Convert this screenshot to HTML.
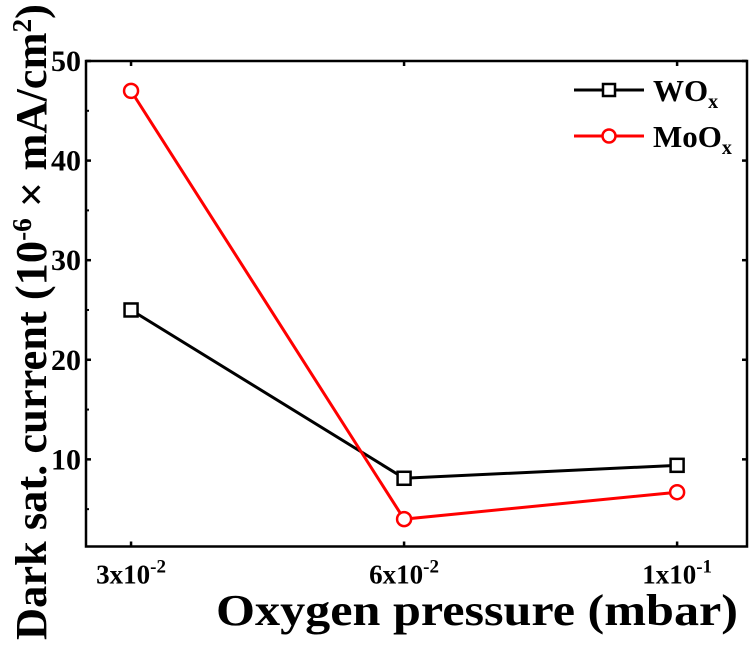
<!DOCTYPE html>
<html><head><meta charset="utf-8"><style>
body{margin:0;background:#fff;}
svg text{font-family:"Liberation Serif",serif;font-weight:bold;}
</style></head><body>
<svg id="chart" width="749" height="644" xmlns="http://www.w3.org/2000/svg"></svg>
<script>
const categories = ["3x10^-2","6x10^-2","1x10^-1"];
const woValues = [25, 8.1, 9.4];
const mooValues = [47, 4.0, 6.7];
const yTicks = [10,20,30,40,50];
const yMinorTicks = [5,15,25,35,45];

const NS="http://www.w3.org/2000/svg";
const svg=document.getElementById('chart');
const L=86,R=747,T=61,B=546.5;
const yMin=1.25,yMax=50;
const xLo=-0.165,xHi=2.256;
function xs(i){return L+(i-xLo)/(xHi-xLo)*(R-L);}
function ys(v){return B-(v-yMin)/(yMax-yMin)*(B-T);}
function mk(tag,attrs,parent){const e=document.createElementNS(NS,tag);for(const k in attrs)e.setAttribute(k,attrs[k]);(parent||svg).appendChild(e);return e;}

const frame=mk('rect',{x:L,y:T,width:R-L,height:B-T,fill:'none',stroke:'#000','stroke-width':2.5});



yTicks.forEach(v=>{
  const y=ys(v);
  const t=mk('line',{x1:L,x2:L+5,y1:y,y2:y,stroke:'#000','stroke-width':2.5});
  
  
  const t2=mk('line',{x1:R-5,x2:R,y1:y,y2:y,stroke:'#000','stroke-width':2.5});
  
  
  const lb=mk('text',{x:L-5,y:y+10,'text-anchor':'end','font-size':30});
  lb.textContent=v;
  
  
});
yMinorTicks.forEach(v=>{
  const y=ys(v);
  const t=mk('line',{x1:L,x2:L+3,y1:y,y2:y,stroke:'#000','stroke-width':2});
  
  
});
categories.forEach((c,i)=>{
  const x=xs(i);
  const t=mk('line',{x1:x,x2:x,y1:B,y2:B-5,stroke:'#000','stroke-width':2.5});
  
  
  const t2=mk('line',{x1:x,x2:x,y1:T,y2:T+5,stroke:'#000','stroke-width':2.5});
  
  
  const p=c.split('^');
  const lb=mk('text',{x:x,y:B+37,'text-anchor':'middle','font-size':27});
  
  
  const a=mk('tspan',{},lb);a.textContent=p[0];
  const b=mk('tspan',{dy:-11,'font-size':19},lb);b.textContent=p[1];
});

function series(vals,color,marker,name){
  const pts=vals.map((v,i)=>xs(i)+','+ys(v)).join(' ');
  const pl=mk('polyline',{points:pts,fill:'none',stroke:color,'stroke-width':3});
  
  
  vals.forEach((v,i)=>{
    let m;
    if(marker==='square') m=mk('rect',{x:xs(i)-6.5,y:ys(v)-6.5,width:13,height:13,fill:'#fff',stroke:color,'stroke-width':2.5});
    else m=mk('circle',{cx:xs(i),cy:ys(v),r:7,fill:'#fff',stroke:color,'stroke-width':2.5});
    
    
  });
}
series(woValues,'#000','square','wox');
series(mooValues,'#f00','circle','moox');

const lg=mk('g',{});


[[90,'#000','square','WO'],[136,'#f00','circle','MoO']].forEach(([y,c,m,t])=>{
  const e=mk('g',{},lg);
  
  
  mk('line',{x1:574,x2:644,y1:y,y2:y,stroke:c,'stroke-width':3},e);
  if(m==='square') mk('rect',{x:603,y:y-6,width:12,height:12,fill:'#fff',stroke:c,'stroke-width':2.5},e);
  else mk('circle',{cx:609,cy:y,r:6.5,fill:'#fff',stroke:c,'stroke-width':2.5},e);
  const tx=mk('text',{x:653,y:y+11,'font-size':31},e);
  const a=mk('tspan',{},tx);a.textContent=t;
  const b=mk('tspan',{dy:7,'font-size':20},tx);b.textContent='x';
});

const xt=mk('text',{x:216,y:625,'font-size':44,textLength:522,lengthAdjust:'spacingAndGlyphs'});
xt.textContent='Oxygen pressure (mbar)';



const yt=mk('text',{transform:'translate(46,640) rotate(-90)','font-size':44,textLength:636,lengthAdjust:'spacingAndGlyphs'});


const s1=mk('tspan',{},yt);s1.textContent='Dark sat. current (10';
const s2=mk('tspan',{dy:-15,'font-size':27},yt);s2.textContent='-6';
const s3=mk('tspan',{dy:15},yt);s3.textContent=' \u00d7 mA/cm';
const s4=mk('tspan',{dy:-15,'font-size':27},yt);s4.textContent='2';
const s5=mk('tspan',{dy:15},yt);s5.textContent=')';
</script>
</body></html>
